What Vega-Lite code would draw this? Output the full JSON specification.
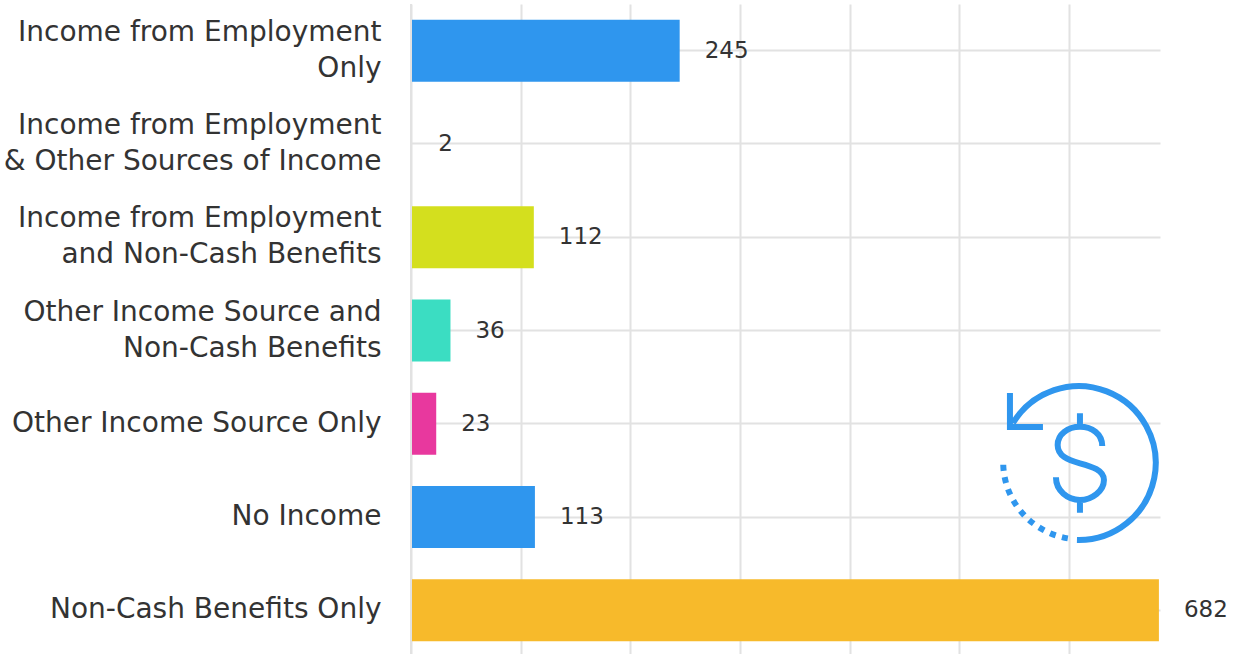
{
"$schema":"https://vega.github.io/schema/vega-lite/v6.json",
"width":749,"height":653,
"autosize":{"type":"none"},
"padding":{"left":411,"top":4,"right":86,"bottom":0},
"background":"#ffffff",
"config":{"view":{"stroke":null},"font":"DejaVu Sans"},
"datasets":{"income":[
{"category":"Income from Employment Only","count":245},
{"category":"Income from Employment & Other Sources of Income","count":2},
{"category":"Income from Employment and Non-Cash Benefits","count":112},
{"category":"Other Income Source and Non-Cash Benefits","count":36},
{"category":"Other Income Source Only","count":23},
{"category":"No Income","count":113},
{"category":"Non-Cash Benefits Only","count":682}
]},
"data":{"name":"income"},
"encoding":{
"y":{"field":"category","type":"nominal","title":null,
"scale":{"domain":["Income from Employment Only","Income from Employment & Other Sources of Income","Income from Employment and Non-Cash Benefits","Other Income Source and Non-Cash Benefits","Other Income Source Only","No Income","Non-Cash Benefits Only"],"paddingInner":0.3355,"paddingOuter":0.168},
"axis":{"domain":false,"ticks":false,"grid":true,"gridColor":"#e2e2e2","gridWidth":2,"labelPadding":30,"labelFont":"DejaVu Sans","labelFontSize":28,"labelColor":"#333333","labelLimit":0,"labelLineHeight":36,"labelOffset":{"condition":{"test":"indexof(datum.label,'Employment')>=0 || indexof(datum.label,'Source and')>=0","value":-18},"value":0},"labelExpr":"split(replace(datum.label,/(Employment|Source and) /,'$1|'),'|')"}},
"x":{"field":"count","type":"quantitative","title":null,
"scale":{"domain":[0,683],"nice":false,"zero":true},
"axis":{"orient":"bottom","domain":false,"ticks":false,"labels":false,"grid":true,"gridColor":"#e2e2e2","gridWidth":2,"values":[0,100,200,300,400,500,600]}}
},
"layer":[
{"mark":{"type":"bar"},
"encoding":{"color":{"field":"category","type":"nominal","legend":null,"scale":{"domain":["Income from Employment Only","Income from Employment & Other Sources of Income","Income from Employment and Non-Cash Benefits","Other Income Source and Non-Cash Benefits","Other Income Source Only","No Income","Non-Cash Benefits Only"],"range":["#2f96ee","transparent","#d4df1e","#3bddc2","#e8389e","#2f96ee","#f7ba2b"]}}}},
{"mark":{"type":"text","align":"left","baseline":"middle","dx":25,"font":"DejaVu Sans","fontSize":23,"color":"#333333"},
"encoding":{"text":{"field":"count","type":"quantitative"}}},
{"mark":{"type":"rule","color":"#e2e2e2","strokeWidth":2},"encoding":{"x":{"datum":0},"y":{}}},
{"data":{"values":[{"count":610,"category":"No Income"}]},
"mark":{"type":"point","filled":false,"opacity":1,"size":4,"stroke":"#2f96ee","strokeWidth":6,"shape":"M-3 23A77 77 0 1 0 -67 -94M-70 -124V-90H-37M0 -103.7V-90.3M0 -17V-4.3M22.3 -71C22.3 -83 12 -90.3 0 -90.3C-12 -90.3 -22.3 -83 -22.3 -72C-22.3 -61 -12 -57 0 -53.7C12 -50.5 24 -47 24 -37C24 -26 12 -17 0 -17C-12 -17 -24 -26 -24 -39.7"}},
{"data":{"values":[{"count":610,"category":"No Income"}]},
"mark":{"type":"point","filled":false,"opacity":1,"size":4,"stroke":"#2f96ee","strokeWidth":6,"strokeDash":[6,6.5],"shape":"M-76.7 -52.3A77 77 0 0 0 -10 21.6"}}
]
}
